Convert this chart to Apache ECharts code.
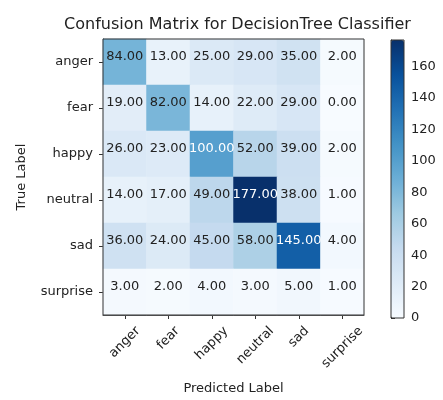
<!DOCTYPE html>
<html>
<head>
<meta charset="utf-8">
<script src="https://cdn.jsdelivr.net/npm/echarts@6/dist/echarts.min.js"></script>
<style>
  html, body { margin: 0; padding: 0; background: #fff; }
  #chart { width: 443px; height: 400px; }
</style>
</head>
<body>
<div id="chart"></div>
<script>
// ---- Data ----
const categories = ['anger', 'fear', 'happy', 'neutral', 'sad', 'surprise'];
// rows = true label, columns = predicted label
const rowAnger    = [84, 13, 25, 29, 35, 2];
const rowFear     = [19, 82, 14, 22, 29, 0];
const rowHappy    = [26, 23, 100, 52, 39, 2];
const rowNeutral  = [14, 17, 49, 177, 38, 1];
const rowSad      = [36, 24, 45, 58, 145, 4];
const rowSurprise = [3, 2, 4, 3, 5, 1];
const colorbarTicks = [0, 20, 40, 60, 80, 100, 120, 140, 160];

const titleText = 'Confusion Matrix for DecisionTree Classifier';
const xName = 'Predicted Label';
const yName = 'True Label';

// ---- Build ----
const rows = [rowAnger, rowFear, rowHappy, rowNeutral, rowSad, rowSurprise];
const data = [];
rows.forEach((row, yi) => row.forEach((v, xi) => data.push([xi, yi, v])));
const vmax = Math.max(...rows.flat());
const thresh = vmax / 2;

const FONT = 'DejaVu Sans';
const TXT = '#222';
const blues = ['#f7fbff', '#deebf7', '#c6dbef', '#9ecae1', '#6baed6', '#4292c6', '#2171b5', '#08519c', '#08306b'];

// x-label per-category padding to mimic matplotlib centred rotated labels
const cv = document.createElement('canvas').getContext('2d');
const FS = 13;
cv.font = FS + 'px "' + FONT + '"';
const PAD = 9, MARGIN = 2, LH = 14;
const xRich = {};
categories.forEach((c, i) => {
  const w = cv.measureText(c).width;
  const D = PAD + (w + LH) / (2 * Math.SQRT2) - MARGIN;
  const p = Math.SQRT2 * D;
  xRich['c' + i] = { fontSize: FS, fontFamily: FONT, color: TXT, padding: [p, p, 0, 0] };
});

const G = { left: 103, top: 39, width: 261, height: 279 };
const CB = { left: 391, top: 40, width: 13, height: 278 };

const chart = echarts.init(document.getElementById('chart'), null, { renderer: 'canvas' });
chart.setOption({
  animation: false,
  backgroundColor: '#fff',
  title: {
    text: titleText,
    left: 232.5,
    top: 12,
    textAlign: 'center',
    textStyle: { fontFamily: FONT, fontSize: 16, fontWeight: 'normal', color: TXT }
  },
  grid: [
    Object.assign({ show: true, borderColor: '#333', borderWidth: 1, backgroundColor: 'transparent', z: 5 }, G),
    Object.assign({ show: true, borderColor: '#333', borderWidth: 1, backgroundColor: 'transparent', z: 10 }, CB)
  ],
  xAxis: [
    {
      type: 'category', data: categories, gridIndex: 0, position: 'bottom',
      name: xName, nameLocation: 'middle', nameGap: 67,
      nameTextStyle: { fontFamily: FONT, fontSize: 13, color: TXT },
      axisLine: { show: true, lineStyle: { color: '#333' } },
      axisTick: { show: true, alignWithLabel: true, length: 4, lineStyle: { color: '#333' } },
      axisLabel: {
        interval: 0, rotate: 45, align: 'center', verticalAlign: 'middle', margin: MARGIN,
        fontFamily: FONT, fontSize: FS, color: TXT,
        formatter: (v, i) => '{c' + i + '|' + v + '}', rich: xRich
      },
      splitLine: { show: false }
    },
    { type: 'value', gridIndex: 1, show: false, min: 0, max: 1 }
  ],
  yAxis: [
    {
      type: 'category', data: categories, gridIndex: 0, inverse: true,
      name: yName, nameLocation: 'middle', nameGap: 75,
      nameTextStyle: { fontFamily: FONT, fontSize: 13, color: TXT },
      axisLine: { show: true, lineStyle: { color: '#333' } },
      axisTick: { show: true, alignWithLabel: true, length: 4, lineStyle: { color: '#333' } },
      axisLabel: { interval: 0, margin: 10, fontFamily: FONT, fontSize: 13, color: TXT },
      splitLine: { show: false }
    },
    {
      type: 'value', gridIndex: 1, position: 'right', min: 0, max: vmax,
      interval: colorbarTicks[1] - colorbarTicks[0],
      axisLine: { show: true, lineStyle: { color: '#333' } },
      axisTick: { show: true, length: 4, lineStyle: { color: '#333' } },
      axisLabel: {
        margin: 7, fontFamily: FONT, fontSize: 13, color: TXT,
        formatter: v => (colorbarTicks.indexOf(v) >= 0 ? String(v) : '')
      },
      splitLine: { show: false }
    }
  ],
  visualMap: {
    type: 'continuous', min: 0, max: vmax, seriesIndex: 0,
    calculable: false, hoverLink: false, show: true,
    orient: 'vertical', left: CB.left, top: CB.top, padding: 0,
    itemWidth: CB.width, itemHeight: CB.height, text: null, showLabel: false,
    inRange: { color: blues }
  },
  series: [{
    type: 'heatmap', xAxisIndex: 0, yAxisIndex: 0, data: data,
    emphasis: { disabled: true },
    label: {
      show: true, offset: [0, -5],
      formatter: p => (p.value[2] > thresh ? '{w|' : '{d|') + p.value[2].toFixed(2) + '}',
      rich: {
        w: { color: '#fff', fontFamily: FONT, fontSize: 13 },
        d: { color: TXT, fontFamily: FONT, fontSize: 13 }
      }
    },
    itemStyle: { borderWidth: 0 }
  }]
});
</script>
</body>
</html>
